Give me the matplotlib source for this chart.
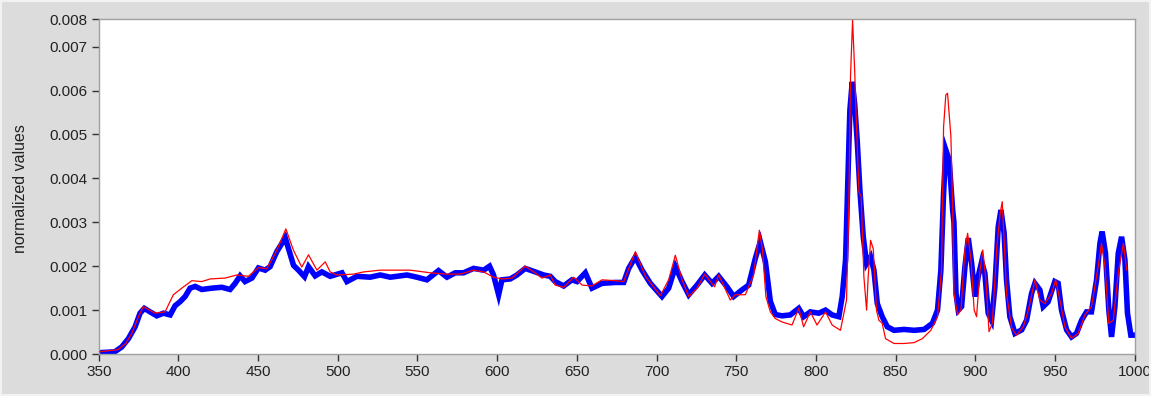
import matplotlib.pyplot as plt
from matplotlib.patches import Rectangle
import numpy as np

# wavelength (nm) / normalized values (x1e-3)
blue_nm = [350, 360, 364.4, 368.6, 372.8, 375.9, 378.6, 382.2, 386.4, 390.6, 394.8,
           397.9, 401, 404.2, 407.3, 410.5, 414.7, 420.9, 427.2, 432.4, 435.6, 438.7,
           441.8, 446.1, 450.2, 454.4, 457.5, 461.7, 464.9, 467, 469, 472.2, 475.3,
           479.1, 481.6, 485.8, 490, 495.2, 502.6, 505.7, 512, 520.3, 526.6, 532.9,
           543.4, 549.6, 555.9, 563.2, 568.5, 573.7, 578.9, 585.2, 591.5, 595.2,
           597.7, 600.9, 603, 608.2, 612.4, 617.6, 623.9, 629.1, 633.3, 636.4, 641.7,
           646.9, 650.1, 655.3, 659.5, 665.8, 674.1, 679.4, 682.5, 686.7, 690.9,
           696.1, 703.4, 707.6, 711.8, 716, 720.2, 725.4, 730.2, 734.8, 739, 744.2,
           748.4, 753.6, 757.8, 762, 765.1, 768.3, 771.4, 774.5, 778.7, 783.9, 789.2,
           792.3, 796.5, 801.8, 806, 810.2, 814.4, 816.5, 818.6, 820.1, 821.3, 822.8,
           824.3, 826, 827.6, 829.7, 831.8, 834.3, 836.4, 838.5, 841.6, 844.8, 849,
           855.3, 861.6, 867.9, 873.1, 876.3, 878.4, 880.1, 881.5, 883.6, 885.8,
           886.6, 887.9, 889.3, 891.4, 893.5, 895.6, 897.7, 899.8, 901.8, 904, 906,
           908.1, 910.2, 912.3, 914.4, 916.1, 918.1, 919.6, 921.7, 924.9, 929.1,
           932.2, 935.3, 937.4, 940.5, 942.6, 945.7, 949.9, 952, 954.1, 957.3, 960.4,
           963.5, 966.7, 969.8, 972.9, 976.1, 978.2, 979.6, 981.7, 983.8, 985.5,
           987.6, 989.7, 991.8, 993.9, 995.5, 997.6, 1000]
blue_val = [0.03, 0.05, 0.16, 0.35, 0.62, 0.93, 1.04, 0.96, 0.87, 0.93, 0.89,
            1.10, 1.19, 1.31, 1.50, 1.54, 1.47, 1.50, 1.52, 1.47, 1.61, 1.78,
            1.65, 1.73, 1.96, 1.91, 1.99, 2.33, 2.52, 2.65, 2.41, 2.02, 1.91,
            1.76, 1.99, 1.78, 1.87, 1.77, 1.85, 1.65, 1.77, 1.75, 1.80, 1.75,
            1.80, 1.75, 1.69, 1.90, 1.75, 1.85, 1.85, 1.95, 1.91, 2.00,
            1.80, 1.35, 1.69, 1.71, 1.80, 1.95, 1.87, 1.80, 1.77, 1.65, 1.55,
            1.69, 1.65, 1.85, 1.50, 1.61, 1.63, 1.63, 1.95, 2.21, 1.91,
            1.61, 1.31, 1.50, 1.99, 1.65, 1.35, 1.57, 1.80, 1.61, 1.77, 1.53,
            1.31, 1.46, 1.57, 2.18, 2.56, 2.10, 1.20, 0.90, 0.87, 0.89, 1.04,
            0.85, 0.96, 0.93, 1.00, 0.89, 0.85, 1.31, 2.14, 4.04, 5.55, 6.20,
            5.71, 4.80, 3.73, 2.67, 2.06, 2.21, 1.91, 1.15, 0.85, 0.62, 0.54,
            0.56, 0.54, 0.56, 0.70, 1.00, 1.91, 3.66, 4.65, 4.42, 3.28,
            3.00, 1.38, 1.00, 1.08, 1.99, 2.64, 2.07, 1.31, 1.76, 2.10, 1.84,
            0.93, 0.77, 1.53, 2.90, 3.28, 2.75, 1.69, 0.85, 0.47, 0.55,
            0.77, 1.38, 1.61, 1.46, 1.08, 1.19, 1.65, 1.61, 1.00, 0.55, 0.39,
            0.47, 0.77, 0.96, 0.96, 1.69, 2.52, 2.79, 2.29, 1.00, 0.39,
            1.08, 2.29, 2.67, 2.14, 0.93, 0.43, 0.43]

red_nm = [350, 362, 367, 370.7, 374.9, 378, 385.3, 391.6, 396.8, 402.1, 408.4,
          414.7, 419.9, 429.3, 436.6, 443.9, 450.2, 455.4, 461.7, 467.4, 472.2,
          477.4, 481.6, 486.9, 492.1, 495.2, 499.4, 509.9, 516.2, 526.6, 545.4,
          558, 568.5, 576.8, 585.2, 591.5, 597.7, 603, 609.3, 617.6, 622.9, 628.1,
          633.3, 636.4, 641.7, 648, 653.3, 659.5, 665.8, 674.1, 679.4, 686.7, 693,
          702.4, 707.6, 711.8, 716, 720.2, 725.4, 730.2, 736.4, 739, 746.3, 749.4,
          755.7, 760.9, 764.5, 766.5, 768.6, 771.4, 774.5, 778.7, 785, 789.2,
          792.3, 796.5, 800.7, 806, 810.2, 815.4, 819.2, 820.6, 821.7, 823, 824.3,
          825.5, 827, 828.4, 830.1, 831.8, 832.8, 834.3, 836, 838, 839.5, 841.6,
          843.7, 849, 855.3, 861.6, 866.8, 872.1, 876.3, 878.8, 880.1, 881.5,
          882.6, 884.7, 885.8, 886.6, 888.9, 891, 893.5, 895.2, 897.3, 899.3,
          900.8, 903, 904.7, 906.7, 908.6, 910.7, 913.5, 915.6, 916.9, 918.1,
          919.6, 922.8, 925.9, 930.1, 933.3, 937.4, 940.5, 943.7, 947.9, 950.4,
          953.1, 956.2, 960.4, 964.6, 968.8, 972.9, 975, 977.1, 979.2, 981.4,
          983.8, 986.6, 989.7, 992.9, 995]
red_val = [0.05, 0.10, 0.24, 0.47, 0.85, 1.08, 0.93, 0.96, 1.35, 1.50, 1.67,
           1.65, 1.71, 1.73, 1.80, 1.77, 1.97, 1.94, 2.36, 2.85, 2.36,
           1.98, 2.26, 1.91, 2.10, 1.87, 1.80, 1.82, 1.87, 1.91, 1.91,
           1.85, 1.82, 1.82, 1.91, 1.87, 1.75, 1.71, 1.73, 2.00, 1.87, 1.73,
           1.80, 1.57, 1.52, 1.75, 1.57, 1.55, 1.69, 1.67, 1.65, 2.33, 1.77,
           1.33, 1.69, 2.25, 1.69, 1.31, 1.50, 1.82, 1.53, 1.80, 1.23, 1.35,
           1.35, 1.80, 2.82, 2.36, 1.31, 0.96, 0.81, 0.73, 0.66, 1.04,
           0.62, 0.96, 0.66, 0.96, 0.66, 0.54, 1.23, 3.28, 6.32, 7.60, 6.47,
           5.17, 3.69, 3.59, 1.76, 1.00, 1.76, 2.59, 2.39, 1.00, 0.77, 0.70,
           0.35, 0.24, 0.24, 0.26, 0.35, 0.54, 0.85, 1.91, 5.17, 5.90,
           5.94, 4.95, 3.28, 1.39, 0.89, 1.00, 2.37, 2.75, 2.14, 1.00,
           0.85, 1.91, 2.37, 1.69, 0.51, 0.70, 2.44, 3.20, 3.47, 2.60,
           1.38, 0.59, 0.43, 0.62, 1.00, 1.69, 1.23, 1.15, 1.38, 1.69,
           1.23, 0.62, 0.36, 0.47, 0.89, 1.08, 1.53, 1.99, 2.52, 1.99,
           0.70, 0.77, 1.84, 2.52, 1.91]

# top of the autoscaled axis is ~0.00763, labelled "0.008" (3 decimals)
y_ticks = [0, 0.001, 0.002, 0.003, 0.004, 0.005, 0.006, 0.007, 0.00763]
y_labels = ["0.000", "0.001", "0.002", "0.003", "0.004", "0.005", "0.006", "0.007", "0.008"]
x_ticks = [350, 400, 450, 500, 550, 600, 650, 700, 750, 800, 850, 900, 950, 1000]

plt.rcParams['font.family'] = ['Liberation Sans', 'DejaVu Sans']

fig = plt.figure(figsize=(11.51, 3.96), dpi=100, facecolor='#dcdcdc')
# light frame round the panel
fig.patches.append(Rectangle((0, 0), 1, 1, transform=fig.transFigure, fill=False,
                             edgecolor='#f2f2f2', linewidth=3))
ax = fig.add_axes([0.0858, 0.106, 0.9, 0.846])
ax.set_facecolor('white')

# thick blue first, thin red drawn over it
ax.plot(blue_nm, np.array(blue_val) / 1000, color='#0000ff', lw=4.0,
        solid_joinstyle='miter', zorder=2)
ax.plot(red_nm, np.array(red_val) / 1000, color='#ff0000', lw=0.9, zorder=3)

ax.set_xlim(350, 1000)
ax.set_ylim(0, 0.00763)
ax.set_xticks(x_ticks)
ax.set_yticks(y_ticks)
ax.set_yticklabels(y_labels)
ax.tick_params(axis='both', labelsize=11, length=5, width=1, color='#333333',
               labelcolor='#222222', pad=3)
ax.set_ylabel("normalized values", fontsize=11.5, color='#222222')
ax.yaxis.set_label_coords(-0.068, 0.494)

for s in ax.spines.values():
    s.set_color('#a0a0a0')
    s.set_linewidth(1)

plt.savefig("out.png", dpi=100, facecolor=fig.get_facecolor())
